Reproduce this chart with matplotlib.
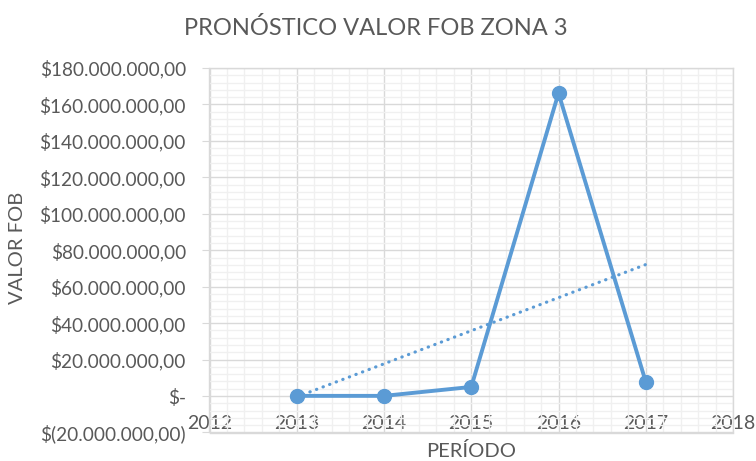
import matplotlib
matplotlib.use("Agg")
import matplotlib.pyplot as plt
import numpy as np
from matplotlib.ticker import MultipleLocator

plt.rcParams['font.family'] = ['Lato', 'DejaVu Sans']

# Valor FOB por período (USD)
periodos = [2013, 2014, 2015, 2016, 2017]
valor_fob = [0.1e6, 0.1e6, 5.0e6, 166.2e6, 7.8e6]

x_ticks = [2012, 2013, 2014, 2015, 2016, 2017, 2018]
y_ticks = [-20e6, 0, 20e6, 40e6, 60e6, 80e6, 100e6, 120e6, 140e6, 160e6, 180e6]
y_labels = ["$(20.000.000,00)", "$-", "$20.000.000,00", "$40.000.000,00",
            "$60.000.000,00", "$80.000.000,00", "$100.000.000,00",
            "$120.000.000,00", "$140.000.000,00", "$160.000.000,00",
            "$180.000.000,00"]

TEXT = "#595959"
BLUE = "#5B9BD5"
W, H = 756, 461

fig = plt.figure(figsize=(W / 100, H / 100), dpi=100)
left, right, top, bottom = 209.5, 733, 68, 432.5
ax = fig.add_axes([left / W, 1 - bottom / H, (right - left) / W, (bottom - top) / H])

ax.set_xlim(2012, 2018)
ax.set_ylim(-20e6, 180e6)
ax.set_xticks(x_ticks)
ax.set_xticklabels([str(t) for t in x_ticks])
ax.set_yticks(y_ticks)
ax.set_yticklabels(y_labels)
ax.xaxis.set_minor_locator(MultipleLocator(0.2))
ax.yaxis.set_minor_locator(MultipleLocator(4e6))

ax.grid(which='minor', color='#F0F0F0', lw=1)
ax.grid(which='major', color='#D9D9D9', lw=1)
ax.set_axisbelow(True)
for s in ax.spines.values():
    s.set_color('#D9D9D9')
    s.set_linewidth(1)

ax.tick_params(axis='x', which='both', length=0, labelsize=14,
               labelcolor=TEXT, pad=-12.5)
ax.tick_params(axis='y', which='major', length=5, color='#D9D9D9',
               labelsize=13.7, labelcolor=TEXT, pad=12)
ax.tick_params(axis='y', which='minor', length=0)

# Serie
ax.plot(periodos, valor_fob, color=BLUE, lw=2.8, marker='o', ms=10,
        solid_joinstyle='round', zorder=3)

# Tendencia lineal
coef = np.polyfit(periodos, valor_fob, 1)
xt = np.array([periodos[0], periodos[-1]])
ax.plot(xt, np.polyval(coef, xt), color=BLUE, lw=2.3,
        linestyle=(0, (0.1, 2.1)), dash_capstyle='round', zorder=2)

fig.text(376 / W, 1 - 28 / H, "PRONÓSTICO VALOR FOB ZONA 3", ha='center',
         va='center', fontsize=17, color=TEXT)
fig.text(18 / W, 1 - 248 / H, "VALOR FOB", rotation=90, ha='center',
         va='center', fontsize=14.5, color=TEXT)
fig.text(471 / W, 1 - 451 / H, "PERÍODO", ha='center', va='center',
         fontsize=14.5, color=TEXT)

fig.savefig("out.png", dpi=100, facecolor='white')
